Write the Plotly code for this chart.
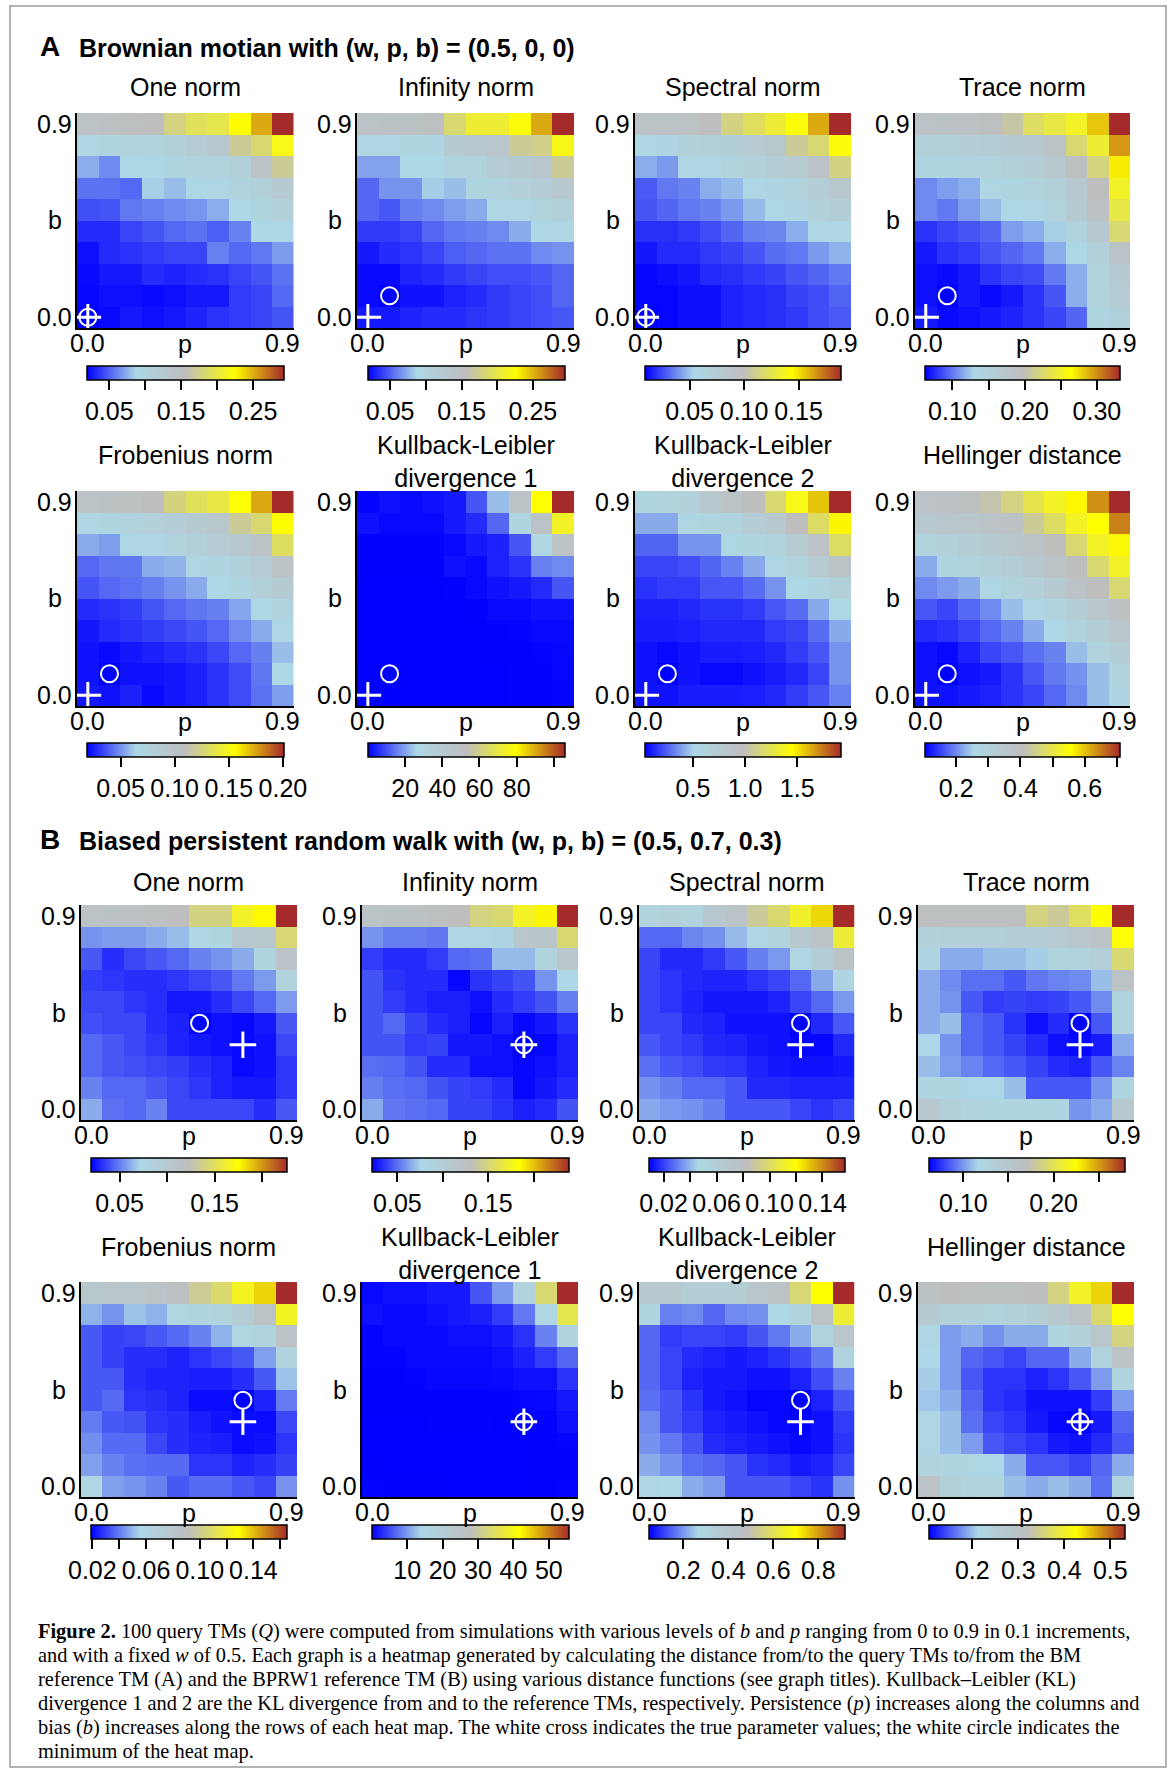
import plotly.graph_objects as go

W, H = 1173, 1773
FONT = "Liberation Sans, Arial, Helvetica, sans-serif"
SERIF = "Liberation Serif, Times New Roman, serif"

# ---------------- data ----------------
P_VALUES = [0.0, 0.1, 0.2, 0.3, 0.4, 0.5, 0.6, 0.7, 0.8, 0.9]
B_ROWS = [0.9, 0.8, 0.7, 0.6, 0.5, 0.4, 0.3, 0.2, 0.1, 0.0]  # row order of every z array (top to bottom)
AXIS_TICKS = [0.0, 0.9]
AXIS_TICK_TEXT = ["0.0", "0.9"]

TITLES = ["One norm", "Infinity norm", "Spectral norm", "Trace norm",
          "Frobenius norm", "Kullback-Leibler<br>divergence 1",
          "Kullback-Leibler<br>divergence 2", "Hellinger distance"]

PANEL_A_TITLE = "Brownian motian with (w, p, b) = (0.5, 0, 0)"
PANEL_B_TITLE = "Biased persistent random walk with (w, p, b) = (0.5, 0.7, 0.3)"

TRUE_A = (0.0, 0.0)   # (p, b)
TRUE_B = (0.7, 0.3)

A_ONE = [
    [0.142, 0.148, 0.151, 0.156, 0.178, 0.192, 0.197, 0.225, 0.252, 0.293],
    [0.093, 0.096, 0.101, 0.101, 0.109, 0.118, 0.129, 0.170, 0.183, 0.216],
    [0.074, 0.063, 0.088, 0.090, 0.096, 0.101, 0.101, 0.109, 0.142, 0.170],
    [0.055, 0.055, 0.052, 0.085, 0.079, 0.090, 0.093, 0.101, 0.109, 0.123],
    [0.044, 0.046, 0.057, 0.060, 0.063, 0.066, 0.074, 0.088, 0.096, 0.107],
    [0.033, 0.033, 0.041, 0.046, 0.052, 0.055, 0.049, 0.060, 0.088, 0.090],
    [0.024, 0.033, 0.035, 0.038, 0.041, 0.041, 0.060, 0.052, 0.057, 0.068],
    [0.022, 0.027, 0.027, 0.033, 0.030, 0.033, 0.035, 0.041, 0.046, 0.055],
    [0.021, 0.024, 0.024, 0.022, 0.024, 0.027, 0.027, 0.038, 0.041, 0.052],
    [0.019, 0.022, 0.027, 0.024, 0.027, 0.030, 0.035, 0.038, 0.041, 0.046],
]
A_INF = [
    [0.143, 0.146, 0.146, 0.151, 0.185, 0.207, 0.207, 0.223, 0.254, 0.295],
    [0.094, 0.094, 0.096, 0.096, 0.124, 0.129, 0.135, 0.171, 0.176, 0.218],
    [0.071, 0.071, 0.088, 0.088, 0.102, 0.102, 0.118, 0.124, 0.135, 0.171],
    [0.052, 0.066, 0.066, 0.085, 0.080, 0.096, 0.102, 0.107, 0.116, 0.129],
    [0.052, 0.047, 0.060, 0.063, 0.069, 0.074, 0.091, 0.094, 0.102, 0.110],
    [0.038, 0.038, 0.041, 0.052, 0.058, 0.060, 0.063, 0.074, 0.091, 0.094],
    [0.027, 0.033, 0.036, 0.041, 0.049, 0.052, 0.055, 0.055, 0.063, 0.066],
    [0.022, 0.022, 0.030, 0.033, 0.038, 0.041, 0.044, 0.044, 0.047, 0.052],
    [0.022, 0.019, 0.025, 0.025, 0.030, 0.033, 0.038, 0.041, 0.044, 0.052],
    [0.027, 0.027, 0.030, 0.033, 0.033, 0.036, 0.038, 0.041, 0.044, 0.047],
]
A_SPEC = [
    [0.090, 0.091, 0.091, 0.099, 0.113, 0.122, 0.131, 0.142, 0.162, 0.189],
    [0.057, 0.059, 0.066, 0.068, 0.072, 0.077, 0.084, 0.108, 0.117, 0.142],
    [0.045, 0.041, 0.057, 0.057, 0.063, 0.066, 0.072, 0.077, 0.090, 0.113],
    [0.028, 0.034, 0.036, 0.045, 0.048, 0.055, 0.059, 0.063, 0.072, 0.084],
    [0.027, 0.030, 0.034, 0.036, 0.041, 0.048, 0.055, 0.059, 0.066, 0.072],
    [0.019, 0.019, 0.021, 0.025, 0.030, 0.036, 0.037, 0.045, 0.055, 0.057],
    [0.014, 0.018, 0.018, 0.021, 0.023, 0.027, 0.032, 0.034, 0.041, 0.046],
    [0.010, 0.012, 0.014, 0.018, 0.019, 0.021, 0.023, 0.027, 0.030, 0.034],
    [0.010, 0.010, 0.012, 0.012, 0.016, 0.018, 0.019, 0.023, 0.025, 0.030],
    [0.009, 0.010, 0.012, 0.012, 0.016, 0.018, 0.019, 0.021, 0.025, 0.028],
]
A_TRACE = [
    [0.184, 0.186, 0.189, 0.192, 0.205, 0.229, 0.240, 0.251, 0.283, 0.332],
    [0.151, 0.154, 0.157, 0.159, 0.165, 0.170, 0.184, 0.224, 0.246, 0.297],
    [0.138, 0.138, 0.143, 0.143, 0.151, 0.157, 0.170, 0.192, 0.219, 0.270],
    [0.105, 0.111, 0.116, 0.135, 0.138, 0.143, 0.151, 0.170, 0.197, 0.251],
    [0.105, 0.100, 0.111, 0.121, 0.132, 0.135, 0.143, 0.165, 0.189, 0.240],
    [0.078, 0.084, 0.089, 0.094, 0.111, 0.116, 0.127, 0.143, 0.170, 0.224],
    [0.070, 0.078, 0.081, 0.089, 0.094, 0.100, 0.116, 0.132, 0.151, 0.184],
    [0.067, 0.065, 0.070, 0.078, 0.084, 0.086, 0.100, 0.116, 0.143, 0.165],
    [0.067, 0.062, 0.070, 0.065, 0.070, 0.078, 0.089, 0.116, 0.143, 0.159],
    [0.070, 0.065, 0.067, 0.070, 0.073, 0.078, 0.084, 0.094, 0.138, 0.151],
]
A_FROB = [
    [0.101, 0.103, 0.105, 0.110, 0.125, 0.134, 0.139, 0.154, 0.174, 0.201],
    [0.068, 0.070, 0.074, 0.077, 0.083, 0.088, 0.095, 0.119, 0.128, 0.156],
    [0.055, 0.052, 0.066, 0.068, 0.074, 0.079, 0.085, 0.092, 0.101, 0.132],
    [0.041, 0.044, 0.044, 0.055, 0.057, 0.068, 0.070, 0.077, 0.085, 0.101],
    [0.037, 0.041, 0.043, 0.046, 0.050, 0.055, 0.065, 0.070, 0.079, 0.088],
    [0.028, 0.030, 0.032, 0.037, 0.041, 0.044, 0.046, 0.054, 0.066, 0.074],
    [0.024, 0.028, 0.030, 0.032, 0.034, 0.037, 0.041, 0.048, 0.055, 0.068],
    [0.023, 0.021, 0.024, 0.026, 0.028, 0.030, 0.034, 0.041, 0.046, 0.059],
    [0.023, 0.019, 0.023, 0.023, 0.024, 0.026, 0.030, 0.035, 0.044, 0.065],
    [0.024, 0.023, 0.026, 0.021, 0.024, 0.026, 0.030, 0.035, 0.043, 0.052],
]
A_KL1 = [
    [0.5, 2.1, 1.1, 2.1, 3.2, 10.6, 23.3, 47.7, 79.5, 106.0],
    [2.1, 1.1, 1.1, 1.1, 3.2, 5.3, 12.7, 29.7, 47.7, 74.2],
    [0.4, 0.4, 0.4, 0.4, 1.1, 3.2, 4.2, 10.6, 28.6, 47.7],
    [0.3, 0.3, 0.3, 0.3, 2.1, 1.1, 4.2, 6.4, 15.9, 17.0],
    [0.2, 0.2, 0.2, 0.2, 0.3, 1.1, 2.1, 3.2, 5.3, 10.6],
    [0.2, 0.2, 0.2, 0.2, 0.2, 0.3, 1.1, 1.1, 2.1, 2.1],
    [0.1, 0.1, 0.2, 0.2, 0.2, 0.2, 0.3, 0.5, 1.1, 1.1],
    [0.1, 0.1, 0.1, 0.1, 0.2, 0.2, 0.3, 0.3, 0.5, 0.8],
    [0.05, 0.02, 0.1, 0.1, 0.1, 0.2, 0.2, 0.3, 0.4, 0.6],
    [0.03, 0.05, 0.1, 0.1, 0.1, 0.2, 0.2, 0.3, 0.4, 0.5],
]
A_KL2 = [
    [0.57, 0.60, 0.64, 0.79, 0.89, 0.98, 1.17, 1.39, 1.58, 1.92],
    [0.41, 0.41, 0.55, 0.57, 0.60, 0.70, 0.79, 0.98, 1.20, 1.47],
    [0.26, 0.26, 0.36, 0.36, 0.53, 0.57, 0.60, 0.75, 0.89, 1.20],
    [0.19, 0.19, 0.21, 0.26, 0.32, 0.41, 0.55, 0.60, 0.75, 0.89],
    [0.15, 0.17, 0.17, 0.23, 0.23, 0.28, 0.36, 0.51, 0.57, 0.66],
    [0.11, 0.11, 0.13, 0.15, 0.15, 0.17, 0.23, 0.28, 0.41, 0.53],
    [0.10, 0.10, 0.11, 0.13, 0.13, 0.13, 0.17, 0.19, 0.28, 0.41],
    [0.08, 0.06, 0.08, 0.10, 0.10, 0.11, 0.13, 0.17, 0.23, 0.36],
    [0.08, 0.04, 0.08, 0.06, 0.06, 0.08, 0.10, 0.13, 0.19, 0.36],
    [0.08, 0.08, 0.10, 0.10, 0.10, 0.11, 0.13, 0.17, 0.23, 0.32],
]
A_HELL = [
    [0.376, 0.388, 0.394, 0.419, 0.455, 0.498, 0.528, 0.564, 0.637, 0.710],
    [0.346, 0.358, 0.358, 0.376, 0.388, 0.437, 0.479, 0.528, 0.558, 0.649],
    [0.285, 0.297, 0.315, 0.334, 0.358, 0.376, 0.407, 0.467, 0.528, 0.564],
    [0.224, 0.273, 0.285, 0.297, 0.315, 0.346, 0.376, 0.407, 0.467, 0.528],
    [0.200, 0.212, 0.224, 0.267, 0.285, 0.297, 0.334, 0.376, 0.407, 0.467],
    [0.164, 0.152, 0.176, 0.200, 0.237, 0.267, 0.285, 0.315, 0.358, 0.394],
    [0.133, 0.139, 0.152, 0.176, 0.194, 0.224, 0.255, 0.285, 0.315, 0.358],
    [0.115, 0.109, 0.127, 0.152, 0.164, 0.182, 0.194, 0.237, 0.285, 0.315],
    [0.115, 0.103, 0.115, 0.121, 0.139, 0.164, 0.188, 0.206, 0.237, 0.285],
    [0.115, 0.115, 0.121, 0.127, 0.139, 0.152, 0.176, 0.200, 0.237, 0.273],
]

B_ONE = [
    [0.113, 0.115, 0.117, 0.119, 0.123, 0.139, 0.139, 0.164, 0.176, 0.226],
    [0.055, 0.057, 0.057, 0.061, 0.065, 0.076, 0.078, 0.102, 0.106, 0.143],
    [0.041, 0.031, 0.037, 0.041, 0.045, 0.051, 0.055, 0.061, 0.078, 0.113],
    [0.035, 0.033, 0.031, 0.031, 0.033, 0.037, 0.041, 0.049, 0.057, 0.082],
    [0.037, 0.037, 0.033, 0.031, 0.026, 0.026, 0.031, 0.037, 0.045, 0.057],
    [0.039, 0.037, 0.037, 0.031, 0.028, 0.020, 0.024, 0.022, 0.026, 0.041],
    [0.045, 0.041, 0.037, 0.033, 0.028, 0.026, 0.024, 0.022, 0.024, 0.037],
    [0.045, 0.041, 0.039, 0.037, 0.035, 0.031, 0.028, 0.022, 0.024, 0.033],
    [0.051, 0.045, 0.045, 0.041, 0.037, 0.033, 0.028, 0.026, 0.026, 0.033],
    [0.061, 0.047, 0.045, 0.051, 0.037, 0.037, 0.037, 0.037, 0.031, 0.041],
]
B_INF = [
    [0.119, 0.122, 0.122, 0.126, 0.130, 0.148, 0.152, 0.174, 0.187, 0.239],
    [0.059, 0.054, 0.054, 0.052, 0.080, 0.080, 0.082, 0.113, 0.115, 0.152],
    [0.037, 0.033, 0.033, 0.037, 0.048, 0.050, 0.069, 0.069, 0.087, 0.113],
    [0.043, 0.035, 0.033, 0.033, 0.024, 0.035, 0.039, 0.043, 0.059, 0.076],
    [0.043, 0.037, 0.033, 0.030, 0.030, 0.026, 0.033, 0.037, 0.043, 0.054],
    [0.043, 0.048, 0.039, 0.033, 0.030, 0.024, 0.030, 0.024, 0.028, 0.035],
    [0.043, 0.043, 0.037, 0.039, 0.028, 0.028, 0.026, 0.022, 0.024, 0.030],
    [0.050, 0.048, 0.043, 0.033, 0.033, 0.026, 0.026, 0.024, 0.026, 0.030],
    [0.054, 0.050, 0.048, 0.043, 0.039, 0.037, 0.033, 0.024, 0.028, 0.033],
    [0.065, 0.052, 0.050, 0.048, 0.039, 0.039, 0.035, 0.030, 0.033, 0.043],
]
B_SPEC = [
    [0.053, 0.056, 0.053, 0.068, 0.075, 0.090, 0.098, 0.112, 0.127, 0.157],
    [0.027, 0.027, 0.032, 0.034, 0.041, 0.049, 0.053, 0.068, 0.075, 0.109],
    [0.021, 0.016, 0.016, 0.019, 0.024, 0.031, 0.035, 0.049, 0.061, 0.075],
    [0.021, 0.018, 0.016, 0.015, 0.015, 0.018, 0.021, 0.027, 0.038, 0.050],
    [0.021, 0.018, 0.015, 0.013, 0.013, 0.013, 0.015, 0.021, 0.027, 0.035],
    [0.021, 0.021, 0.016, 0.015, 0.012, 0.012, 0.012, 0.009, 0.016, 0.024],
    [0.024, 0.021, 0.019, 0.016, 0.015, 0.013, 0.012, 0.010, 0.010, 0.016],
    [0.028, 0.024, 0.022, 0.019, 0.018, 0.015, 0.013, 0.012, 0.012, 0.013],
    [0.034, 0.031, 0.027, 0.027, 0.024, 0.016, 0.016, 0.015, 0.015, 0.015],
    [0.038, 0.035, 0.034, 0.031, 0.024, 0.024, 0.024, 0.021, 0.018, 0.021],
]
B_TRACE = [
    [0.166, 0.166, 0.166, 0.166, 0.166, 0.188, 0.181, 0.197, 0.225, 0.279],
    [0.131, 0.134, 0.134, 0.134, 0.138, 0.138, 0.144, 0.153, 0.160, 0.223],
    [0.121, 0.105, 0.105, 0.110, 0.110, 0.114, 0.127, 0.127, 0.134, 0.192],
    [0.105, 0.097, 0.090, 0.090, 0.084, 0.092, 0.095, 0.097, 0.110, 0.160],
    [0.105, 0.099, 0.084, 0.077, 0.079, 0.077, 0.079, 0.084, 0.097, 0.127],
    [0.105, 0.110, 0.088, 0.084, 0.075, 0.066, 0.073, 0.062, 0.084, 0.127],
    [0.116, 0.099, 0.088, 0.084, 0.079, 0.073, 0.066, 0.064, 0.069, 0.105],
    [0.110, 0.101, 0.095, 0.088, 0.084, 0.079, 0.073, 0.071, 0.084, 0.095],
    [0.123, 0.123, 0.116, 0.116, 0.110, 0.084, 0.084, 0.084, 0.099, 0.123],
    [0.149, 0.134, 0.127, 0.123, 0.123, 0.123, 0.121, 0.099, 0.105, 0.149],
]
B_FROB = [
    [0.078, 0.081, 0.081, 0.085, 0.089, 0.100, 0.107, 0.122, 0.136, 0.165],
    [0.049, 0.044, 0.052, 0.049, 0.059, 0.060, 0.063, 0.071, 0.085, 0.122],
    [0.034, 0.030, 0.031, 0.034, 0.037, 0.041, 0.049, 0.059, 0.063, 0.085],
    [0.034, 0.030, 0.027, 0.027, 0.025, 0.028, 0.031, 0.034, 0.046, 0.063],
    [0.034, 0.034, 0.027, 0.025, 0.025, 0.024, 0.024, 0.027, 0.034, 0.052],
    [0.034, 0.037, 0.028, 0.027, 0.025, 0.021, 0.021, 0.019, 0.025, 0.040],
    [0.040, 0.034, 0.033, 0.028, 0.027, 0.024, 0.022, 0.021, 0.021, 0.031],
    [0.043, 0.037, 0.037, 0.031, 0.027, 0.025, 0.024, 0.021, 0.022, 0.028],
    [0.046, 0.041, 0.038, 0.037, 0.037, 0.028, 0.028, 0.025, 0.027, 0.030],
    [0.059, 0.046, 0.044, 0.041, 0.034, 0.037, 0.037, 0.034, 0.031, 0.044],
]
B_KL1 = [
    [0.6, 1.1, 1.1, 1.7, 1.7, 5.6, 10.0, 16.7, 33.4, 55.7],
    [1.1, 0.6, 0.6, 1.1, 1.7, 2.2, 3.9, 7.8, 15.0, 36.2],
    [0.3, 0.6, 0.6, 0.6, 1.1, 1.1, 1.7, 3.3, 8.4, 16.7],
    [0.3, 0.3, 0.6, 0.6, 0.6, 0.6, 1.1, 2.2, 3.9, 6.7],
    [0.2, 0.2, 0.3, 0.5, 0.5, 0.5, 0.6, 1.1, 1.1, 3.3],
    [0.2, 0.2, 0.2, 0.2, 0.2, 0.2, 0.2, 0.4, 0.5, 1.7],
    [0.1, 0.1, 0.1, 0.2, 0.2, 0.2, 0.1, 0.05, 0.2, 1.1],
    [0.1, 0.1, 0.1, 0.1, 0.1, 0.1, 0.1, 0.1, 0.2, 0.3],
    [0.2, 0.1, 0.1, 0.1, 0.1, 0.1, 0.1, 0.1, 0.2, 0.2],
    [0.3, 0.2, 0.2, 0.2, 0.1, 0.1, 0.1, 0.1, 0.2, 0.3],
]
B_KL2 = [
    [0.396, 0.396, 0.352, 0.352, 0.352, 0.413, 0.439, 0.570, 0.701, 0.919],
    [0.291, 0.177, 0.186, 0.151, 0.186, 0.195, 0.265, 0.308, 0.439, 0.640],
    [0.151, 0.108, 0.116, 0.116, 0.108, 0.134, 0.169, 0.221, 0.308, 0.413],
    [0.151, 0.116, 0.090, 0.081, 0.073, 0.081, 0.099, 0.125, 0.169, 0.308],
    [0.151, 0.116, 0.081, 0.073, 0.073, 0.064, 0.064, 0.081, 0.125, 0.177],
    [0.160, 0.134, 0.099, 0.073, 0.064, 0.052, 0.055, 0.047, 0.081, 0.134],
    [0.186, 0.134, 0.108, 0.081, 0.073, 0.064, 0.055, 0.050, 0.064, 0.108],
    [0.195, 0.169, 0.134, 0.090, 0.081, 0.073, 0.064, 0.055, 0.064, 0.099],
    [0.221, 0.195, 0.160, 0.151, 0.134, 0.099, 0.090, 0.073, 0.081, 0.116],
    [0.282, 0.265, 0.221, 0.204, 0.134, 0.134, 0.134, 0.116, 0.099, 0.195],
]
B_HELL = [
    [0.306, 0.319, 0.310, 0.310, 0.310, 0.319, 0.353, 0.404, 0.447, 0.532],
    [0.268, 0.247, 0.242, 0.234, 0.242, 0.255, 0.276, 0.298, 0.362, 0.426],
    [0.221, 0.183, 0.191, 0.178, 0.191, 0.191, 0.225, 0.247, 0.285, 0.353],
    [0.213, 0.183, 0.157, 0.149, 0.140, 0.157, 0.157, 0.191, 0.234, 0.298],
    [0.208, 0.183, 0.149, 0.132, 0.132, 0.123, 0.132, 0.149, 0.183, 0.234],
    [0.204, 0.191, 0.157, 0.132, 0.127, 0.115, 0.115, 0.115, 0.136, 0.183],
    [0.221, 0.200, 0.161, 0.140, 0.132, 0.119, 0.110, 0.106, 0.119, 0.157],
    [0.221, 0.200, 0.183, 0.149, 0.140, 0.132, 0.119, 0.115, 0.127, 0.149],
    [0.234, 0.225, 0.221, 0.212, 0.191, 0.149, 0.149, 0.140, 0.157, 0.191],
    [0.298, 0.247, 0.234, 0.234, 0.200, 0.191, 0.200, 0.191, 0.161, 0.234],
]

# colour-bar tick values and labels
CB_TICKS_A = [
    [0.05, 0.10, 0.15, 0.20, 0.25], [0.05, 0.10, 0.15, 0.20, 0.25],
    [0.05, 0.10, 0.15], [0.10, 0.15, 0.20, 0.25, 0.30],
    [0.05, 0.10, 0.15, 0.20], [20, 40, 60, 80, 100],
    [0.5, 1.0, 1.5], [0.2, 0.3, 0.4, 0.5, 0.6, 0.7],
]
CB_LABELS_A = [
    ["0.05", "", "0.15", "", "0.25"], ["0.05", "", "0.15", "", "0.25"],
    ["0.05", "0.10", "0.15"], ["0.10", "", "0.20", "", "0.30"],
    ["0.05", "0.10", "0.15", "0.20"], ["20", "40", "60", "80", ""],
    ["0.5", "1.0", "1.5"], ["0.2", "", "0.4", "", "0.6", ""],
]
CB_TICKS_B = [
    [0.05, 0.10, 0.15, 0.20], [0.05, 0.10, 0.15, 0.20],
    [0.02, 0.04, 0.06, 0.08, 0.10, 0.12, 0.14], [0.10, 0.15, 0.20, 0.25],
    [0.02, 0.04, 0.06, 0.08, 0.10, 0.12, 0.14, 0.16], [10, 20, 30, 40, 50],
    [0.2, 0.4, 0.6, 0.8], [0.2, 0.3, 0.4, 0.5],
]
CB_LABELS_B = [
    ["0.05", "", "0.15", ""], ["0.05", "", "0.15", ""],
    ["0.02", "", "0.06", "", "0.10", "", "0.14"], ["0.10", "", "0.20", ""],
    ["0.02", "", "0.06", "", "0.10", "", "0.14", ""], ["10", "20", "30", "40", "50"],
    ["0.2", "0.4", "0.6", "0.8"], ["0.2", "0.3", "0.4", "0.5"],
]

CAPTION = [
    "<b>Figure 2.</b> 100 query TMs (<i>Q</i>) were computed from simulations with various levels of <i>b</i> and <i>p</i> ranging from 0 to 0.9 in 0.1 increments,",
    "and with a fixed <i>w</i> of 0.5. Each graph is a heatmap generated by calculating the distance from/to the query TMs to/from the BM",
    "reference TM (A) and the BPRW1 reference TM (B) using various distance functions (see graph titles). Kullback–Leibler (KL)",
    "divergence 1 and 2 are the KL divergence from and to the reference TMs, respectively. Persistence (<i>p</i>) increases along the columns and",
    "bias (<i>b</i>) increases along the rows of each heat map. The white cross indicates the true parameter values; the white circle indicates the",
    "minimum of the heat map.",
]

# ---------------- styling / geometry (pixels) ----------------
COLORSCALE = [[0.0, "#0000FF"], [0.25, "#ADD8E6"], [0.5, "#BEBEBE"],
              [0.75, "#FFFF00"], [1.0, "#A52A2A"]]
ROW_Y = [(113, 328), (491, 706), (905, 1120), (1282, 1497)]
COL_X = {"A": [(77, 293.5), (357, 574), (635, 851), (915, 1130)],
         "B": [(80.5, 297), (361.5, 578), (638.5, 854.5), (918, 1134)]}
CB_X = {"A": [(87, 284), (368, 565), (645, 841), (925, 1120)],
        "B": [(91, 287), (372, 569), (649, 845), (929, 1125)]}
CB_TOP = [366, 743, 1158, 1525]
TITLE_Y = [87, 455, 882, 1247]
CAPTION_Y = [1631, 1655, 1679, 1703, 1727, 1751]


def fx(px):
    return px / W


def fy(py):
    return 1 - py / H


panels = {
    "A": dict(data=[A_ONE, A_INF, A_SPEC, A_TRACE, A_FROB, A_KL1, A_KL2, A_HELL],
              ticks=CB_TICKS_A, labels=CB_LABELS_A, true=TRUE_A, rows=[0, 1]),
    "B": dict(data=[B_ONE, B_INF, B_SPEC, B_TRACE, B_FROB, B_KL1, B_KL2, B_HELL],
              ticks=CB_TICKS_B, labels=CB_LABELS_B, true=TRUE_B, rows=[2, 3]),
}

fig = go.Figure()
annotations = []
layout = {}
axis_font = dict(family=FONT, size=25, color="black")

k = 0
for key in ["A", "B"]:
    pan = panels[key]
    for j in range(8):
        r = pan["rows"][j // 4]
        c = j % 4
        k += 1
        xn = "x" if k == 1 else f"x{k}"
        yn = "y" if k == 1 else f"y{k}"
        xl = "xaxis" if k == 1 else f"xaxis{k}"
        yl = "yaxis" if k == 1 else f"yaxis{k}"
        x0, x1 = COL_X[key][c]
        yt, yb = ROW_Y[r]
        z = pan["data"][j]
        cbx0, cbx1 = CB_X[key][c]

        fig.add_trace(go.Heatmap(
            z=z, x=P_VALUES, y=B_ROWS, colorscale=COLORSCALE,
            xaxis=xn, yaxis=yn, hoverinfo="skip",
            colorbar=dict(
                orientation="h", x=fx((cbx0 + cbx1) / 2), xanchor="center",
                y=fy(CB_TOP[r]), yanchor="top", len=cbx1 - cbx0, lenmode="pixels",
                thickness=14, thicknessmode="pixels", xpad=0, ypad=0,
                outlinewidth=1.5, outlinecolor="black",
                ticks="outside", ticklen=10, tickwidth=1.5, tickcolor="black",
                tickvals=pan["ticks"][j], ticktext=pan["labels"][j],
                tickfont=axis_font,
            ),
        ))

        # white cross at the true parameters, white circle at the heat-map minimum
        tp, tb = pan["true"]
        best = min((z[ri][ci], ri, ci) for ri in range(10) for ci in range(10))
        fig.add_trace(go.Scatter(
            x=[tp], y=[tb], xaxis=xn, yaxis=yn, mode="markers", hoverinfo="skip",
            marker=dict(symbol="cross-thin-open", size=19, color="white",
                        line=dict(color="white", width=3)),
            showlegend=False))
        fig.add_trace(go.Scatter(
            x=[P_VALUES[best[2]]], y=[B_ROWS[best[1]]], xaxis=xn, yaxis=yn,
            mode="markers", hoverinfo="skip",
            marker=dict(symbol="circle-open", size=17, color="white",
                        line=dict(color="white", width=2)),
            showlegend=False))

        common = dict(range=[-0.05, 0.95], showticklabels=False,
                      showline=True, linecolor="black", linewidth=2, ticks="",
                      showgrid=False, zeroline=False, fixedrange=True)
        layout[xl] = dict(domain=[fx(x0), fx(x1)], anchor=yn, **common)
        layout[yl] = dict(domain=[fy(yb), fy(yt)], anchor=xn, **common)

        # axis tick labels (placed on the axes' own data coordinates)
        for v, t in zip(AXIS_TICKS, AXIS_TICK_TEXT):
            annotations.append(dict(text=t, x=v, xref=xn, y=fy(yb + 15), yref="paper",
                                    xanchor="center", yanchor="middle", showarrow=False,
                                    font=axis_font))
            annotations.append(dict(text=t, x=fx(x0 - 3), xref="paper", y=v, yref=yn,
                                    xanchor="right", yanchor="middle", showarrow=False,
                                    font=axis_font))

        # subplot title
        annotations.append(dict(
            text=TITLES[j], x=fx((x0 + x1) / 2), y=fy(TITLE_Y[r] + (6 if "<br>" in TITLES[j] else 0)),
            xref="paper", yref="paper", xanchor="center", yanchor="middle",
            showarrow=False, font=axis_font))
        # axis labels p and b
        annotations.append(dict(
            text="p", x=fx((x0 + x1) / 2), y=fy(yb + 16), xref="paper", yref="paper",
            xanchor="center", yanchor="middle", showarrow=False, font=axis_font))
        annotations.append(dict(
            text="b", x=fx(x0 - 22), y=fy((yt + yb) / 2), xref="paper", yref="paper",
            xanchor="center", yanchor="middle", showarrow=False, font=axis_font))

# panel headings
for letter, text, yy in [("A", PANEL_A_TITLE, 47), ("B", PANEL_B_TITLE, 840)]:
    annotations.append(dict(text=f"<b>{letter}</b>", x=fx(38), y=fy(yy), xref="paper", yref="paper",
                            xanchor="left", yanchor="middle", showarrow=False,
                            font=dict(family=FONT, size=28, color="black")))
    annotations.append(dict(text=f"<b>{text}</b>", x=fx(77), y=fy(yy + 1), xref="paper", yref="paper",
                            xanchor="left", yanchor="middle", showarrow=False,
                            font=dict(family=FONT, size=25, color="black")))

# caption
for line, yy in zip(CAPTION, CAPTION_Y):
    annotations.append(dict(text=line, x=fx(36), y=fy(yy), xref="paper", yref="paper",
                            xanchor="left", yanchor="middle", showarrow=False,
                            font=dict(family=SERIF, size=20.4, color="black")))

fig.update_layout(
    width=W, height=H, autosize=False,
    margin=dict(l=0, r=0, t=0, b=0),
    paper_bgcolor="white", plot_bgcolor="white",
    showlegend=False, annotations=annotations,
    shapes=[dict(type="rect", xref="paper", yref="paper",
                 x0=fx(10), x1=fx(1166), y0=fy(1767), y1=fy(6),
                 line=dict(color="#9a9a9a", width=1.5), fillcolor="rgba(0,0,0,0)")],
    **layout,
)

fig.write_html("out.html")
